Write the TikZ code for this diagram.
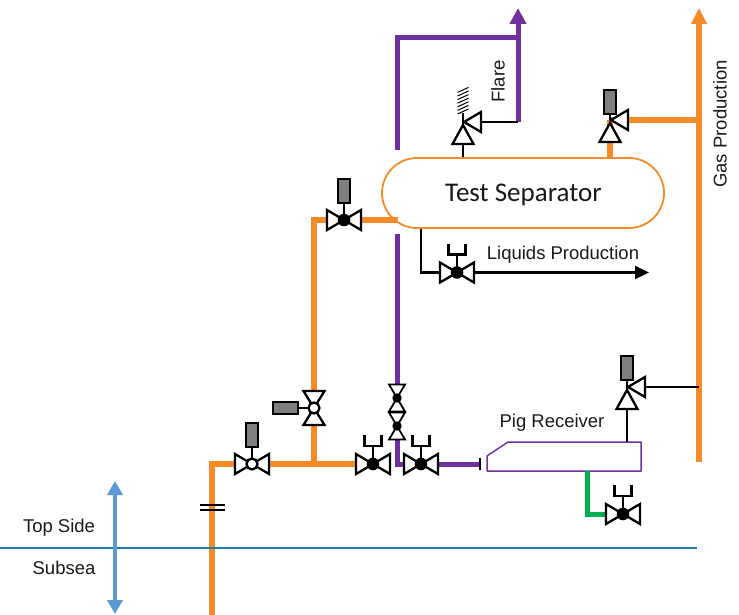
\documentclass[tikz,border=0pt]{standalone}
\usepackage{fontspec}
\setmainfont{Liberation Sans}
\newfontfamily\carlitofont{Carlito}
\usetikzlibrary{arrows.meta,shapes.misc}
\definecolor{pipeorange}{HTML}{F58A26}
\definecolor{pipepurple}{HTML}{7030A0}
\definecolor{pipegreen}{HTML}{00B050}
\definecolor{skyblue}{HTML}{5B9BD5}
\definecolor{linedeep}{HTML}{1F77B4}
\definecolor{actgrey}{HTML}{7F7F7F}
\tikzset{
  x=1pt,y=-1pt,
  blk/.style={draw=black,line width=2.3pt,line join=miter},
  tri/.style={blk,fill=white},
  orangepipe/.style={draw=pipeorange,line width=5.5pt,line join=miter},
  purplepipe/.style={draw=pipepurple,line width=5pt,line join=miter},
  greenpipe/.style={draw=pipegreen,line width=5pt,line join=miter},
  blackpipe/.style={draw=black,line width=2.2pt,line join=miter},
  act/.style={draw=black,line width=2.4pt,fill=actgrey},
  lbl/.style={inner sep=0pt,font=\fontsize{18.5}{20}\selectfont,text=black!90},
  hvalve/.pic={
    \draw[tri] (-17,-10)--(0,0)--(-17,10)--cycle;
    \draw[tri] (17,-10)--(0,0)--(17,10)--cycle;
  },
  vvalve/.pic={
    \draw[tri] (-10.5,-17)--(0,0)--(10.5,-17)--cycle;
    \draw[tri] (-10.5,17)--(0,0)--(10.5,17)--cycle;
  },
  solidball/.pic={\fill[black] (0,0) circle (6.3);},
  openball/.pic={\draw[blk,fill=white] (0,0) circle (5.5);},
  manual/.pic={
    \draw[blackpipe] (0,0)--(0,-18);
    \draw[blackpipe] (-8.5,-29)--(-8.5,-18)--(8.5,-18)--(8.5,-29);
  },
  upactuator/.pic={
    \draw[blk] (0,0)--(0,-18);
    \draw[act] (-6,-41)rectangle(6,-17);
  },
  anglevalve/.pic={
    \draw[tri] (0,3)--(-10.5,22)--(10.5,22)--cycle;
    \draw[tri] (1,0)--(18,-10)--(18,10)--cycle;
  },
}
\begin{document}
\begin{tikzpicture}
\useasboundingbox (0,0) rectangle (739,615);

% valve centres and pipe corners
\coordinate (vA) at (252,464);
\coordinate (vB) at (314,408);
\coordinate (vC) at (344,220);
\coordinate (vD) at (373,464);
\coordinate (vE) at (421,464);
\coordinate (vF) at (457,272.5);
\coordinate (vG) at (623,514);
\coordinate (dT) at (397,398);
\coordinate (dB) at (397,426);
\coordinate (rFlare) at (463,122);
\coordinate (rGas) at (610,120);
\coordinate (rPig) at (627,387);
\coordinate (feedBottom) at (212,615);
\coordinate (feedCorner) at (212,464);
\coordinate (tee) at (314,464);
\coordinate (upCorner) at (314,220);
\coordinate (sepIn) at (398,220);
\coordinate (flareTop) at (397,150);
\coordinate (flareCornerA) at (397,38);
\coordinate (flareTee) at (518,38);
\coordinate (flareTip) at (518,8);
\coordinate (flareFoot) at (518,122);
\coordinate (purpleBelow) at (397,234);
\coordinate (purpleFoot) at (397,464);
\coordinate (pigEnd) at (480,464);
\coordinate (gasBottom) at (699,462);
\coordinate (gasTip) at (699,8);
\coordinate (gasTee) at (699,120);
\coordinate (gasPig) at (699,387);
\coordinate (liqCornerTop) at (421,229);
\coordinate (liqCorner) at (421,272.5);
\coordinate (liqTip) at (649,272.5);
\coordinate (greenTop) at (587,471);
\coordinate (greenCorner) at (587,514);
\coordinate (seaL) at (0,548);
\coordinate (seaR) at (697,548);
\coordinate (armTop) at (115,481);
\coordinate (armBottom) at (115,614);
\coordinate (flgA1) at (200,505);
\coordinate (flgA2) at (225,505);
\coordinate (flgB1) at (200,510);
\coordinate (flgB2) at (225,510);

% separator
\node[rounded rectangle,rounded rectangle arc length=180,draw=pipeorange,line width=1.8pt,fill=white,
  minimum width=282pt,minimum height=70pt,inner sep=0pt,text=black!90]
  (sep) at (523,193) {};
\node[inner sep=0pt,font=\carlitofont\fontsize{27}{29}\selectfont,text=black!90] (sepLabel) at (523.5,194.5) {Test Separator};

% pipes
\draw[orangepipe] (feedBottom)--(feedCorner)--(vA);
\draw[orangepipe] (vA)--(vD);
\draw[orangepipe] (tee)--(upCorner)--(sepIn);
\draw[orangepipe] (rGas|-sep.north)--(rGas);
\draw[orangepipe] (rGas)--(gasTee);
\draw[pipeorange,line width=6pt,-{Triangle[length=16pt,width=15pt]}] (gasBottom)--(gasTip);
\draw[purplepipe] (flareTop)--(flareCornerA)--(flareTee)--(flareFoot);
\draw[pipepurple,line width=5pt,-{Triangle[length=16pt,width=16pt]}] (flareTee)--(flareTip);
\draw[purplepipe] (purpleBelow)--(purpleFoot)--(pigEnd);
\draw[blackpipe] (rFlare|-sep.north)--(rFlare);
\draw[blackpipe] (rFlare)--(flareFoot);
\draw[blackpipe] (rPig)--(gasPig);
\draw[blackpipe] (liqCornerTop)--(liqCorner)--(vF);
\draw[black,line width=2.2pt,-{Triangle[length=14pt,width=13pt]}] (vF)--(liqTip);
\draw[black,line width=2.4pt] (480,458)--(480,470);

% pig receiver
\coordinate (pigA) at (487,456);
\coordinate (pigB) at (508,442);
\coordinate (pigC) at (641,442);
\coordinate (pigD) at (641,471);
\coordinate (pigE) at (487,471);
\draw[pipepurple,line width=1.5pt,fill=white,line join=round] (pigA)--(pigB)--(pigC)--(pigD)--(pigE)--cycle;
\draw[blackpipe] (rPig)--(rPig|-pigB);
\draw[greenpipe] (greenTop)--(greenCorner)--(vG);

% flange
\draw[black,line width=1.3pt] (flgA1)--(flgA2);
\draw[black,line width=1.3pt] (flgB1)--(flgB2);

% sea level and range
\draw[linedeep,line width=1.3pt] (seaL)--(seaR);
\draw[skyblue,line width=3.5pt,{Triangle[length=14pt,width=15pt]}-{Triangle[length=14pt,width=15pt]}] (armTop)--(armBottom);

% valves
\pic at (vA) {upactuator};
\pic at (vA) {hvalve};
\pic at (vA) {openball};
\pic at (vC) {upactuator};
\pic at (vC) {hvalve};
\pic at (vC) {solidball};
\pic at (vD) {manual};
\pic at (vD) {hvalve};
\pic at (vD) {solidball};
\pic at (vE) {manual};
\pic at (vE) {hvalve};
\pic at (vE) {solidball};
\pic at (vF) {manual};
\pic at (vF) {hvalve};
\pic at (vF) {solidball};
\pic at (vG) {manual};
\pic at (vG) {hvalve};
\pic at (vG) {solidball};

% vertical actuated valve
\coordinate (actB) at (298,408);
\draw[blk] (vB)--(actB);
\draw[act] (273,402) rectangle (298,414);
\pic at (vB) {vvalve};
\pic at (vB) {openball};

% small double valves
\foreach \c in {dT,dB}{
  \draw[tri,line width=1.8pt] ([shift={(-8,-13.5)}]\c)--(\c)--([shift={(8,-13.5)}]\c)--cycle;
  \draw[tri,line width=1.8pt] ([shift={(-8,13.5)}]\c)--(\c)--([shift={(8,13.5)}]\c)--cycle;
  \fill[black] (\c) circle (4.7);
}

% angle valves
\draw[blk] (rFlare)--++(0,-9);
\foreach \i in {0,...,6}{
  \draw[black,line width=1pt] ([shift={(-5.5,-8-3.6*\i)}]rFlare)--++(11,-5);
}
\pic at (rFlare) {anglevalve};
\draw[blk] (rGas)--++(0,-8);
\draw[act] (604,90) rectangle (616,114);
\pic at (rGas) {anglevalve};
\draw[blk] (rPig)--++(0,-8);
\draw[act] (621,356) rectangle (633,380);
\pic at (rPig) {anglevalve};

% labels
\node[lbl] (lLiq) at (563,255) {Liquids Production};
\node[lbl] (lPig) at (552,422.5) {Pig Receiver};
\node[lbl] (lTop) at (59,528) {Top Side};
\node[lbl] (lSub) at (64,568) {Subsea};
\node[lbl,rotate=90] (lFlare) at (498,81.5) {Flare};
\node[lbl,rotate=90] (lGas) at (720,124) {Gas Production};
\end{tikzpicture}
\end{document}
